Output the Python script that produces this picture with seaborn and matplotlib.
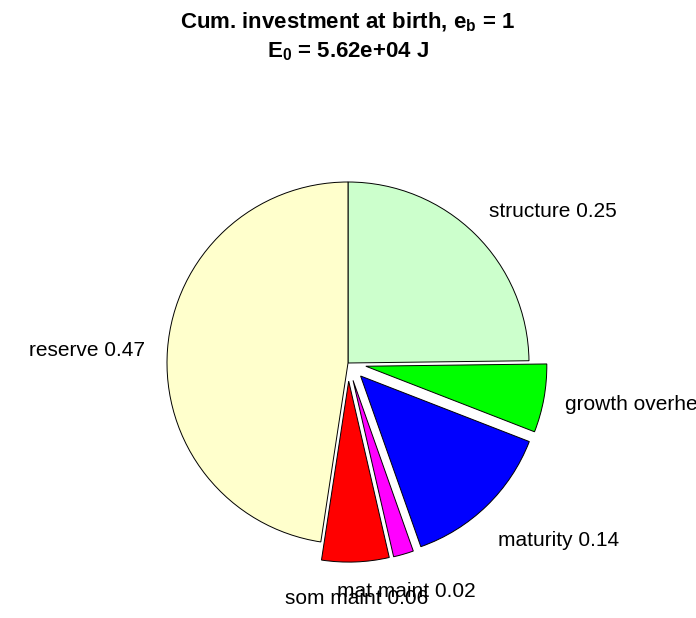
import matplotlib

matplotlib.use("Agg")  # headless

import numpy as np
import matplotlib.pyplot as plt
import seaborn as sns

# slices, clockwise from 12 o'clock
parts = ["structure", "growth overhead", "maturity", "mat maint", "som maint", "reserve"]
fractions = [0.248, 0.061, 0.137, 0.018, 0.060, 0.476]
shown = ["0.25", "0.06", "0.14", "0.02", "0.06", "0.47"]
title_1 = r"Cum. investment at birth, $\mathregular{e_b}$ = 1"
title_2 = r"$\mathregular{E_0}$ = 5.62e+04 J"

# styling
explode = [0, 0.1, 0.1, 0.1, 0.1, 0]
colors = ["#CCFFCC", "#00FF00", "#0000FF", "#FF00FF", "#FF0000", "#FFFFCC"]
label_dist = [1.2, 1.2, 1.2, 1.2, 1.2, 1.03]
label_ha = ["left", "left", "left", "center", "center", "right"]
label_nudge = [(-12, -3), (-15, 0), (-14, -9), (-7, -3), (0, 0), (-17, -2)]  # px

sns.set_theme(style="white")
plt.rcParams["font.family"] = ["Liberation Sans", "DejaVu Sans"]
plt.rcParams["text.color"] = "black"

W, H = 696, 618
R = 181            # pie radius in px
CX, CY = 348, 363  # pie centre in px (from top-left)

fig = plt.figure(figsize=(W / 100, H / 100), dpi=100)
ax = fig.add_axes([0, 0, 1, 1])
wedges, _ = ax.pie(
    fractions,
    explode=explode,
    colors=colors,
    startangle=90,
    counterclock=False,
    wedgeprops=dict(edgecolor="black", linewidth=0.7),
)
ax.set_aspect("auto")
ax.set_xlim(-CX / R, (W - CX) / R)
ax.set_ylim(-(H - CY) / R, CY / R)
ax.axis("off")

for w, name, val, d, ha, nudge in zip(wedges, parts, shown, label_dist, label_ha, label_nudge):
    mid = np.deg2rad((w.theta1 + w.theta2) / 2)
    x0, y0 = w.center
    ax.annotate(f"{name} {val}",
                xy=(x0 + d * w.r * np.cos(mid), y0 + d * w.r * np.sin(mid)),
                xytext=nudge, textcoords="offset pixels",
                ha=ha, va="center", fontsize=15, color="black")

fig.text(0.5, 1 - 28 / H, title_1, ha="center", va="baseline", fontsize=16, fontweight="bold")
fig.text(0.5, 1 - 57 / H, title_2, ha="center", va="baseline", fontsize=16, fontweight="bold")

fig.savefig("out.png", dpi=100, facecolor="white")
